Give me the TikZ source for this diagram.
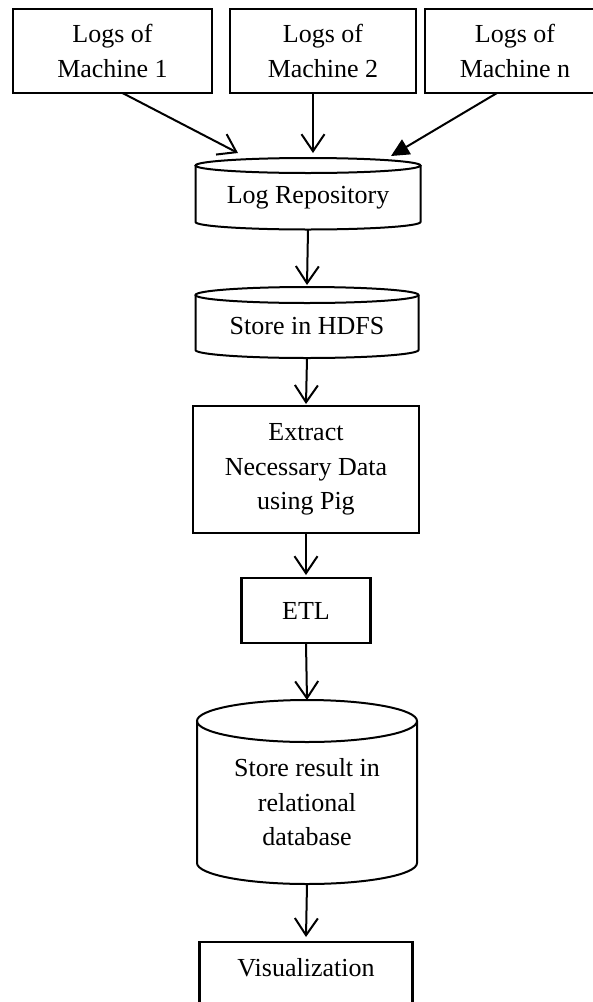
\documentclass[tikz,border=0pt]{standalone}
\usepackage{fontspec}
\setmainfont{Liberation Serif}
\usepackage{tikz}
\usetikzlibrary{arrows.meta, positioning}

% top ellipse and side walls round a store node
\newcommand{\drumshape}[3]{%
  \draw[wall] ([yshift=#3pt]#1.north) ellipse [x radius=#2pt, y radius=#3pt];
  \draw[wall] ([yshift=#3pt]#1.north west) -- (#1.south west)
    arc [start angle=180, end angle=360, x radius=#2pt, y radius=#3pt]
    -- ([yshift=#3pt]#1.north east);
}

\begin{document}
\begin{tikzpicture}[x=1pt, y=1pt,
    box/.style={rectangle, draw, line width=2.2pt, inner sep=0pt, outer sep=0pt, align=center, font=\fontsize{26}{34.5}\selectfont},
    store/.style={rectangle, inner sep=0pt, outer sep=0pt, align=center, font=\fontsize{26}{34.5}\selectfont},
    wall/.style={line width=2pt},
    arrow/.style={-{Straight Barb[length=17pt,width=23pt]}, line width=2pt},
    arrowfill/.style={-{Triangle[length=18pt,width=17pt]}, line width=2pt}
]
\useasboundingbox (0,0) rectangle (593,-1002);
\clip (0,0) rectangle (593,-1002);

\node[box, minimum width=199, minimum height=84] (lm1) at (112.5,-51) {Logs of\\Machine 1};
\node[box, minimum width=186, minimum height=84] (lm2) at (323,-51) {Logs of\\Machine 2};
\node[box, minimum width=180, minimum height=84] (lm3) at (515,-51) {Logs of\\Machine n};

\node[store, minimum width=225, minimum height=49] (repo) at (308,-197.5) {Log Repository};
\node[store, minimum width=223, minimum height=47] (hdfs) at (307,-326.5) {Store in HDFS};
\node[box, minimum width=226, minimum height=127] (extract) at (306,-469.5) {Extract\\Necessary Data\\using Pig};
\node[box, minimum width=129, minimum height=65] (etl) at (306,-610.5) {ETL};
\node[store, minimum width=220, minimum height=121] (db) at (307,-802.5) {Store result in\\relational\\database};
\node[box, minimum width=213, anchor=north, inner ysep=16pt, text depth=30pt] (viz) at (306,-942) {Visualization};

\drumshape{repo}{112.5}{7.5}
\drumshape{hdfs}{111.5}{8}
\drumshape{db}{110}{21}

\draw[arrow] ([xshift=10pt]lm1.south) -- ([xshift=-70pt,yshift=20pt]repo.north);
\draw[arrow] ([xshift=-10pt]lm2.south) -- ([xshift=5pt,yshift=20pt]repo.north);
\draw[arrowfill] ([xshift=-18pt]lm3.south) -- ([xshift=83pt,yshift=17pt]repo.north);
\draw[arrow] ([yshift=-7.5pt]repo.south) -- ([yshift=18pt]hdfs.north);
\draw[arrow] ([yshift=-8pt]hdfs.south) -- ([yshift=2pt]extract.north);
\draw[arrow] (extract.south) -- ([yshift=3pt]etl.north);
\draw[arrow] (etl.south) -- ([yshift=42pt]db.north);
\draw[arrow] ([yshift=-21pt]db.south) -- ([yshift=5pt]viz.north);

\end{tikzpicture}
\end{document}
